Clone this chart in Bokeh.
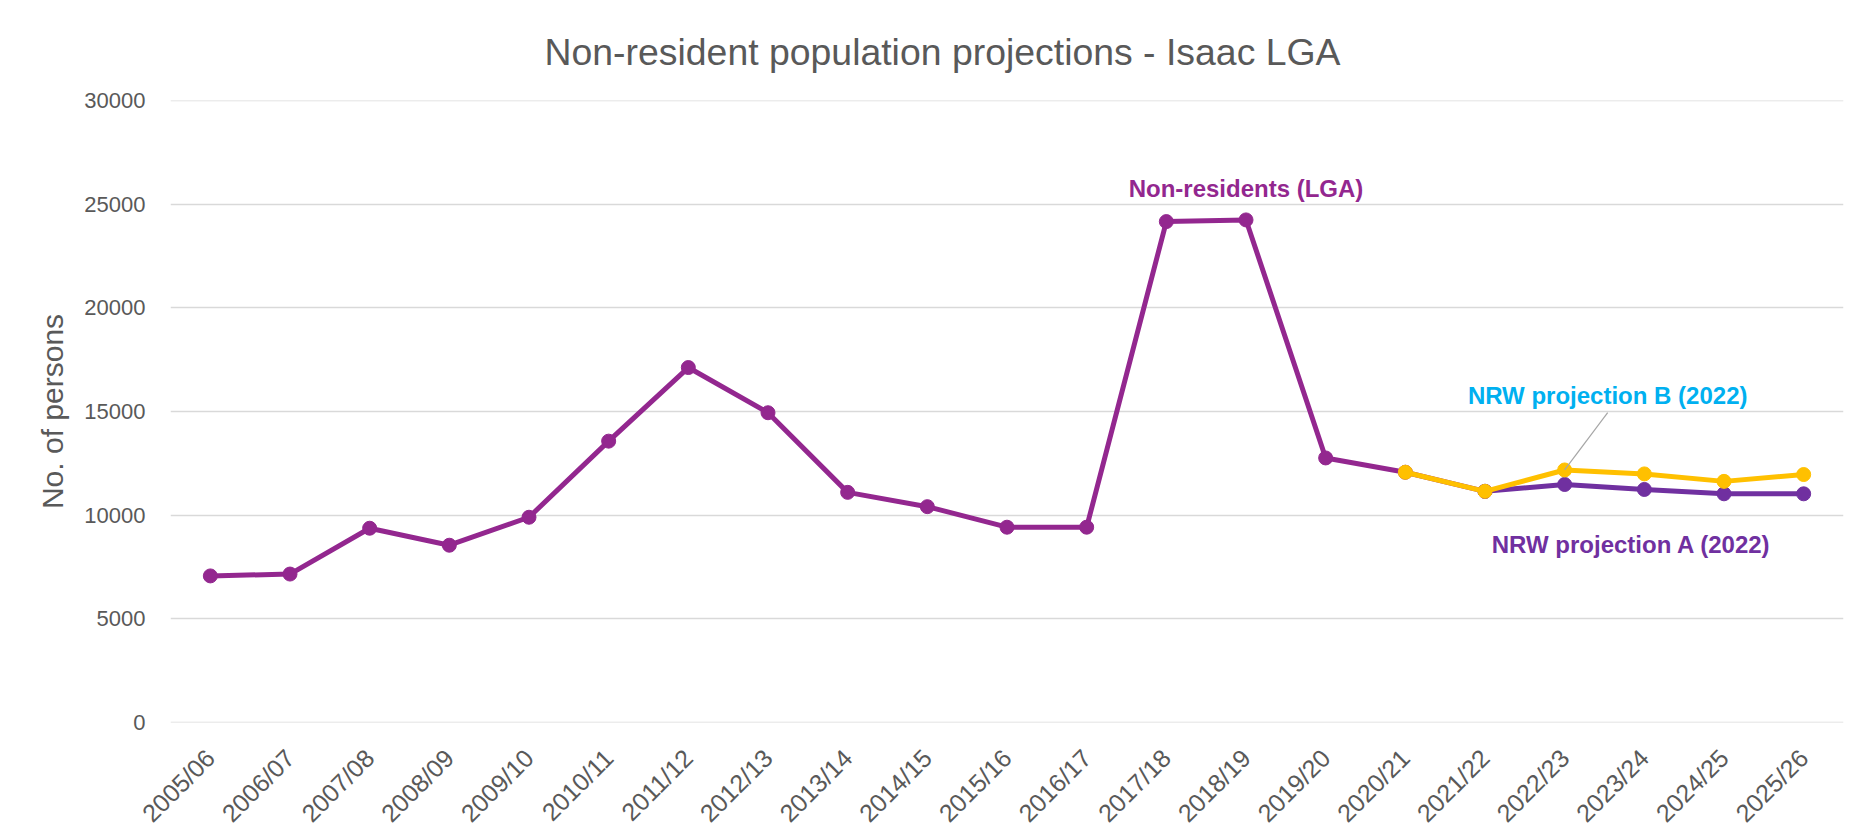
import math
from bokeh.plotting import figure
from bokeh.models import (FactorRange, Range1d, SingleIntervalTicker, Label,
                          ColumnDataSource, Span)
from bokeh.embed import file_html
from bokeh.resources import INLINE

# ---------------- data ----------------
categories = ["2005/06", "2006/07", "2007/08", "2008/09", "2009/10", "2010/11",
              "2011/12", "2012/13", "2013/14", "2014/15", "2015/16", "2016/17",
              "2017/18", "2018/19", "2019/20", "2020/21", "2021/22", "2022/23",
              "2023/24", "2024/25", "2025/26"]

nonres_years = categories[0:17]
nonres_values = [7070, 7160, 9370, 8550, 9900, 13570, 17120, 14940, 11100,
                 10410, 9420, 9420, 24160, 24240, 12760, 12070, 11150]

proj_a_years = categories[16:21]
proj_a_values = [11150, 11480, 11240, 11030, 11030]

proj_b_years = categories[15:21]
proj_b_values = [12070, 11150, 12180, 11990, 11630, 11960]

y_ticks_interval = 5000
y_max = 30000

title_text = "Non-resident population projections - Isaac LGA"
y_label = "No. of persons"

FONT = "Liberation Sans"
GREY = "#595959"
GRID = "#D9D9D9"
C_NONRES = "#93278F"
C_A = "#7030A0"
C_B = "#FFC000"
C_BLABEL = "#00B0F0"

# ---------------- figure ----------------
p = figure(width=1847, height=840, x_range=FactorRange(*categories, range_padding=0),
           y_range=Range1d(0, y_max), output_backend="svg", toolbar_location=None,
           min_border_left=170, min_border_right=4, min_border_top=100,
           min_border_bottom=118)

p.title.text = title_text
p.title.text_font = FONT
p.title.text_font_size = "37.4px"
p.title.text_font_style = "normal"
p.title.text_color = GREY
p.title.align = "left"
p.title.offset = 374
p.title.standoff = 56

p.outline_line_color = None
p.background_fill_color = "white"
p.border_fill_color = "white"

p.xgrid.grid_line_color = None
p.ygrid.grid_line_color = GRID
p.ygrid.grid_line_width = 1.5
for loc in (0, y_max):
    p.add_layout(Span(location=loc, dimension="width", line_color=GRID, line_width=1.5))

p.yaxis.ticker = SingleIntervalTicker(interval=y_ticks_interval)
p.yaxis.axis_label = y_label
p.yaxis.axis_label_text_font = FONT
p.yaxis.axis_label_text_font_size = "30px"
p.yaxis.axis_label_text_font_style = "normal"
p.yaxis.axis_label_text_color = GREY
p.yaxis.axis_label_standoff = 12
p.yaxis.major_label_text_font = FONT
p.yaxis.major_label_text_font_size = "22px"
p.yaxis.major_label_text_color = GREY
p.yaxis.major_label_standoff = 21

p.xaxis.major_label_orientation = math.pi / 4
p.xaxis.major_label_text_font = FONT
p.xaxis.major_label_text_font_size = "25px"
p.xaxis.major_label_text_color = GREY
p.xaxis.major_label_standoff = 31

for ax in (p.xaxis, p.yaxis):
    ax.axis_line_color = None
    ax.major_tick_line_color = None
    ax.minor_tick_line_color = None
    ax.major_tick_out = 0
    ax.major_tick_in = 0

# ---------------- series ----------------
src_n = ColumnDataSource(dict(x=nonres_years, y=nonres_values))
src_a = ColumnDataSource(dict(x=proj_a_years, y=proj_a_values))
src_b = ColumnDataSource(dict(x=proj_b_years, y=proj_b_values))

for src, col in ((src_n, C_NONRES), (src_a, C_A), (src_b, C_B)):
    p.line("x", "y", source=src, line_color=col, line_width=5, line_join="round")
    p.scatter("x", "y", source=src, size=14, fill_color=col, line_color=col)

# ---------------- annotations ----------------
def cat_pos(c, off=0.0):
    return categories.index(c) + 0.5 + off

p.add_layout(Label(x=cat_pos("2018/19"), y=25750, text="Non-residents (LGA)",
                   text_font=FONT, text_font_size="24px", text_font_style="bold",
                   text_color=C_NONRES, text_align="center", text_baseline="middle"))

b_idx = proj_b_years.index("2022/23")
p.segment(x0=[cat_pos("2023/24", -0.46)], y0=[14950],
          x1=[cat_pos("2022/23")], y1=[proj_b_values[b_idx]],
          line_color="#A6A6A6", line_width=1.2)

p.add_layout(Label(x=cat_pos("2023/24", -0.46), y=15770, text="NRW projection B (2022)",
                   text_font=FONT, text_font_size="24px", text_font_style="bold",
                   text_color=C_BLABEL, text_align="center", text_baseline="middle"))

p.add_layout(Label(x=cat_pos("2023/24", -0.16), y=8583, text="NRW projection A (2022)",
                   text_font=FONT, text_font_size="24px", text_font_style="bold",
                   text_color=C_A, text_align="center", text_baseline="middle"))

open("out.html", "w").write(file_html(p, INLINE))
